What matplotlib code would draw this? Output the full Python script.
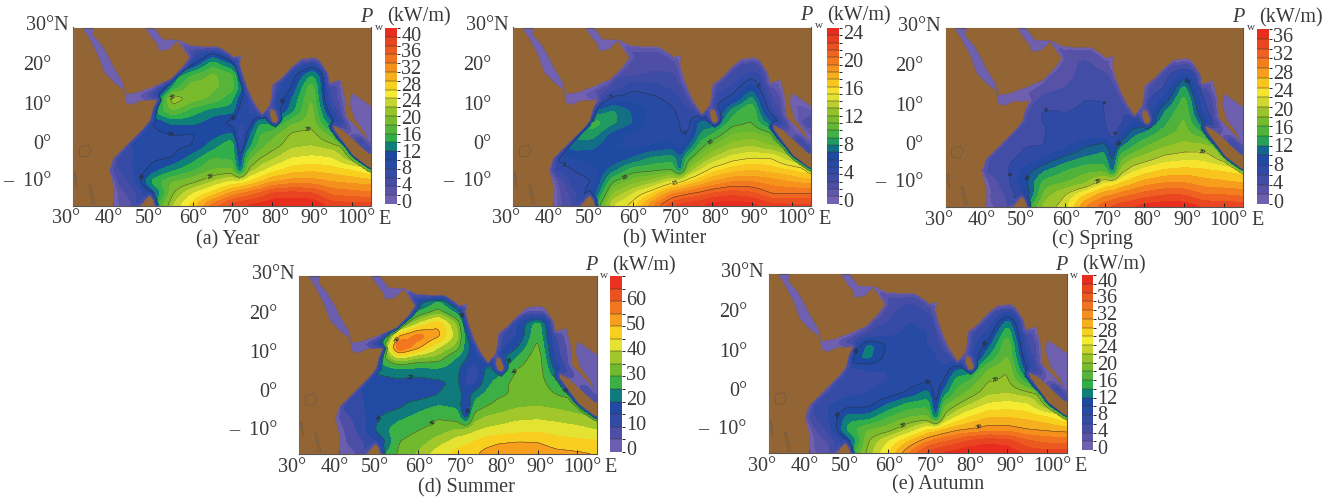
import numpy as np
import matplotlib
matplotlib.use("Agg")
import matplotlib.pyplot as plt
from matplotlib.colors import LinearSegmentedColormap, ListedColormap, BoundaryNorm
from matplotlib.patches import Polygon
from matplotlib.path import Path

plt.rcParams['font.family'] = ['Liberation Serif', 'DejaVu Serif']

lons = [40, 45, 50, 55, 60, 65, 70, 72, 74, 77, 80, 85, 90, 95, 100, 105]
lats = [24, 21, 18, 15, 12, 9, 6, 3, 0, -3, -6, -9, -12, -15]

year_power = [
 [0,0,0,2,5,9,6,0,0,0,0,0,0,0,0,0],
 [0,0,0,4,9,15,11,8,5,0,0,6,8,6,0,0],
 [0,0,0,12,16,18.5,16.5,11,9,6,8,9,14,8,0,0],
 [0,0,2,14,19.5,18.5,17,13,9,6,6,10,17.5,5,1,0],
 [0,0,8,22,19,17.5,14.5,10.5,8,6,7,12,18.5,5,1,1],
 [0,0,14,18,15,13,13,9,8,6,8,13,19,8,1,1],
 [0,10,10,12.5,12.5,11,9,8,8,14,13,17.5,19,12,1,1],
 [0,9,9.5,10,9.8,11,12.5,6,11,16,17,20.5,21,17,1,1],
 [6,8,9,9.5,10,13,16,7,13,17,19,21.5,22,21,20,1],
 [6,8,9.5,10,13,16,15.5,10,17,20,21.5,24,24.5,24,20,18],
 [5,8,11,13.5,15.5,18,18.5,10,20.5,23,25,27,27.5,27,26,24],
 [3,7,15,18,19.5,22,24.5,25,26,28,30,31,31,30,29.5,29],
 [2,5,10,20,24,27,31,32,33,34.5,36.5,37,36.5,33.5,33,32.5],
 [1,4,14,22,27,33,37,38,38.5,39,39.7,39.8,39.7,37.5,37,37],
]
winter_power = [
 [0,0,0,1,2,2,2,0,0,0,0,0,0,0,0,0],
 [0,0,0,2,2.2,2.6,2.5,2,2,0,0,3,3,3,0,0],
 [0,0,0,2.8,2.8,3.2,3.1,2.5,2,2,3,3,4.5,3,0,0],
 [0,0,1,3,4.8,4.4,3.7,3,2.5,2,3,4,6.5,2,0,0],
 [0,0,2,5.5,5.5,5.3,4.7,4,3,2.5,4,5.5,8.5,3,1,1],
 [0,0,7,8.2,6.8,5.5,5.2,4.7,4.2,3.5,4,8.5,10.2,4,1,1],
 [0,9,9.7,8.3,7,5.5,5.2,5,4.5,7.5,7,9.5,10,7,1,3],
 [0,8.5,8.5,6.5,5.7,5.5,5.3,5,5,8,9,11,11.3,10.5,1,1],
 [5,7.5,7.2,6,5.8,6,6.5,5,7,9.5,11,12.5,13,12,11,1],
 [5,6,6.5,6,7,8.2,8.5,7,9.5,11.5,13,14.5,15,15,13,12],
 [4,5,5.5,7.5,9.5,9.7,10,7,12,14,15.5,16.5,17,16.5,16,15],
 [1,4.5,5,10,11.5,12.5,14.5,15,16,17,18,19,19,18.5,18,17.5],
 [1,3.5,6,12,14,16,19,19.5,20,20.5,21.2,21.7,21.3,20,20,20],
 [1,3,8,14,15.5,19,22,22.5,22.7,23,23.5,23.8,23.5,22.5,22.3,22.3],
]
spring_power = [
 [0,0,0,2,3,3,3,0,0,0,0,0,0,0,0,0],
 [0,0,0,2,3,4.5,3,2.5,2,0,0,4,4,3,0,0],
 [0,0,0,3,3,5,4.5,3.5,3,2,4,5,9,5,0,0],
 [0,0,1,3,4,5.5,5.5,5,4,3,4,6,13,4,0,0],
 [0,0,2,5,5.5,6,6,6,5,4,5,8.5,15,6,2,2],
 [0,0,5,6.2,6,6.2,6,5.5,6,5,5,12,16,7,2,2],
 [0,6,6,6,6,6.3,6.3,4,5.5,8.5,9,13.5,16.5,10,1,1],
 [0,6,5.5,6,6.3,7,7,5,8,11.5,13,15.5,17,15,1,1],
 [5,5,6,6,7.5,10,11.5,8,12,14,16,18,19,19,18,1],
 [5,5.5,6.5,8.5,11,12.5,13,9,15.5,18,19,21,21.5,21.5,19,16],
 [4,5.5,9,12,14,15.5,15.5,10,19,21.5,23,24.5,25,24.5,24,23],
 [2,5,9.5,15,16,17.5,22,22.5,24,25.5,27,28,28,27,26.5,26],
 [2,4,8,17,20,24,27.5,28,29,30,31,32,32,30,30,29.5],
 [1,3,12,19,21,28,31.5,32.5,33.5,34,35,35.5,35.3,34,33.5,33.5],
]
summer_power = [
 [0,0,0,2,15,24,15,0,0,0,0,0,0,0,0,0],
 [0,0,0,5,25,32,22,12,5,0,0,5,5,5,0,0],
 [0,0,0,25,40,49,33,18,10,5,10,15,28,8,0,0],
 [0,0,5,50,58,52,36,22,14,8,10,15,30,8,0,0],
 [0,0,20,63,52,40,32,22,18,10,12,20,32,10,1,1],
 [0,0,25,38,33,32,23,20,16,20,18,26,34.5,12,1,1],
 [0,19,21,22,22,23,21,15,11,21,22,31,34,18,1,1],
 [0,15,18,19,18,19,21,14,13,23,27,32.5,33,26,1,1],
 [12,14,18,18,17.5,20,23,16,23,26,29,31,33,30,28,1],
 [10,14,17.5,19,23,25.5,24,12,27,30,32,34.5,35,34,32,28],
 [6,12,20,24,27,30,28,18,33,36,37,39,39.5,38.5,37,35],
 [3,11,22,28,30,32,36,37,39,41,42,43.5,44,43,42,40],
 [3,8,15,30,32,38,43,44,45.5,48,49.5,50.3,50,47,46.5,46],
 [2,5,22,31,36,43,47,48,49,52,53,54,54,52,51,50],
]
autumn_power = [
 [0,0,0,2,4,5,5,0,0,0,0,0,0,0,0,0],
 [0,0,0,3,5,7,5.5,4,3,0,0,5,7,5,0,0],
 [0,0,0,5,6,8,7.5,5,4,3,5,6,13,5,0,0],
 [0,0,2,6,7.5,8.5,8,6,4,3,5,8.5,16,5,0,0],
 [0,0,6,13,9.7,8.5,8,7,5,4,6,11,18,6,2,2],
 [0,0,12,12.5,9,8.5,9.5,8,7,6,6,14,18.5,8,1,1],
 [0,7,7,8,8,9,10,9,8.5,12,12.5,18,20,10,1,1],
 [0,6,7,7.5,8,9,9.8,9,10,15,16,20,20.5,15,1,1],
 [5,6,7.5,8,9,10.5,13,8.5,13,16.5,18.5,21.5,22,21,20,1],
 [6,8,9.5,9.5,12.5,15,15.5,9,17.5,20,22,24.5,25,24.5,20,18],
 [5,8,13,13,16,18,18.5,11,21,24,26,28,28,27.5,26.5,24],
 [2,7,15,18,19,22,26,27,28,29.5,30,31,31,30,29.5,29],
 [2,4,10,20,24,28,32,33,34,35,36.5,37.5,37,34.5,33.5,33.5],
 [1,3,14,21,26,32,37,38,38.5,39,39.7,39.8,39.7,37.5,37,37],
]

x_ticks = [30, 40, 50, 60, 70, 80, 90, 100]
x_tick_labels = ['30°', '40°', '50°', '60°', '70°', '80°', '90°', '100°']
y_ticks = [30, 20, 10, 0, -10]
y_tick_labels = ['30°N', '20°', '10°', '0°', '–  10°']

titles = ['(a) Year', '(b) Winter', '(c) Spring', '(d) Summer', '(e) Autumn']
level_steps = [2, 1, 2, 5, 2]
level_tops = [40, 24, 36, 70, 40]
bar_labels = [[0,4,8,12,16,20,24,28,32,36,40],
              [0,4,8,12,16,20,24],
              [0,4,8,12,16,20,24,28,32,36],
              [0,10,20,30,40,50,60],
              [0,4,8,12,16,20,24,28,32,36,40]]
contour_levels = [[10, 20], [5, 10, 15, 20], [6, 10, 20], [20, 30, 50], [10, 20, 30]]
contour_widths = [[.3, .3], [.3, .3, .3, .3], [.1, .3, .3], [.3, .3, .3], [.3, .3, .3]]
contour_label_points = [
 [(54.3,3),(42.7,-6),(71.7,6),(83,11.5),(64.4,-7.7),(89,4.4),(54.9,12.8)],
 [(54.5,13),(91.2,15.5),(73.3,2),(41,-7.3),(79,2),(58.2,-7.9),(70.5,-8.3)],
 [(54.8,12.6),(71.7,12.4),(73.7,3.3),(40.9,-7.1),(73.8,0.8),(90.8,17.2),(50.8,-7.6),(94.5,-1.5),(68.1,-7.9)],
 [(58.2,4.8),(48.6,-4.8),(72.6,-3.8),(97,1.2),(54.9,13.9),(70.8,20.2),(83.1,9),(83.6,6.4),(63.5,-6.9)],
 [(51.6,11),(70.1,6.7),(45.5,-3.8),(84,13),(63.5,-7.6),(86.4,5.2),(82.8,-8.6)],
]

# land outlines, lon / lat
africa = [(40.1,-16),(40.3,-10.7),(39.1,-6),(40.1,-3.1),(43,-0.2),(45.5,2.3),(47.6,4.4),(49.3,6.5),(50.1,9.5),(51.1,11.8),
          (49.7,11.6),(47.2,11.6),(44.7,10.5),(43.2,11.1),(43,13),(42.6,14.5),(40.7,15.7),(37.8,18.7),(36.1,23.3),(33.9,27.5),
          (32.5,29.6),(32.3,31),(29,31),(29,-16)]
arabia = [(35,31),(35.2,29.6),(34.8,28.2),(37,25.8),(39,22.4),(39.9,20.4),(42.4,16.2),(43.2,13.1),(46.2,13.6),(50.8,15.3),
          (54.6,17),(57.5,20),(59.2,22.4),(56.6,26.2),(56.2,26.6),(54.1,24.5),(51.6,24.1),(51.2,25.8),(50,27.1),(48.3,29.6),(48,31)]
asia = [(50,31),(50.4,29.8),(52.5,27),(56.6,26.8),(59.6,25.4),(63.8,25.1),(66,25.2),(67.3,24.7),(69.4,23.3),(70.2,22.5),
        (72.3,22.9),(71.9,20.8),(72.7,17.8),(74,14.1),(75.7,10.7),(77.5,8),(79.4,10.3),(79.8,12.4),(80.1,15.5),(82.4,17.2),
        (84.9,19.9),(87.4,22),(90.7,22.4),(92,21.6),(94.1,18.3),(94.5,15.9),(97.2,16.8),(98.3,12.4),(98.7,7.4),(100.8,5.3),
        (104.2,1.5),(103.3,3.6),(100.8,6.9),(99.6,10.7),(100,13.4),(101.7,12.4),(104.6,10.3),(106,10),(106,31)]
sumatra = [(95.4,5.3),(97.9,4),(104.2,-1.8),(106,-2.2),(106,-6),(104.2,-5.2),(100.4,-2.3),(97.9,1.1),(95.8,4)]
sri_lanka = [(79.7,9.4),(80.7,9),(81.5,6.9),(81.1,5.9),(80.1,6.1),(79.5,7.8)]
madagascar = [(46.8,-16),(47,-15),(48.5,-13.2),(49.3,-12.5),(50,-13.5),(50.5,-15),(50.5,-16)]
lakes = [[(31.7,-0.2),(33.8,0.2),(34.4,-1),(33.6,-2.7),(31.7,-2.5),(31.4,-1.2)],
         [(30.2,-7),(30.6,-6.9),(31.1,-10.2),(30.7,-10.2)],
         [(33.9,-9.8),(34.4,-9.8),(35.4,-14.4),(34.8,-14.4)]]

# pixel layout: left, right, top, bottom of map; left, right, top, bottom of bar
map_boxes = [(73.3,371,27.5,205.5),(513.3,811,27.5,205.5),(945.7,1243.3,28.3,206.7),(299.3,596.7,276,454),(769,1066.7,274,453.3)]
bar_boxes = [(385,396.7,28,204),(827.3,839,28,203.5),(1256.7,1268.6,29.3,204),(610,621.7,276,451.7),(1081.7,1093,275,450)]
title_centres = [(228,239.5),(665,238.5),(1092.7,239.5),(466.7,487.5),(938,484.5)]
header_lefts = [(360,17),(800,16),(1232,18),(585,266),(1055,265)]
label_top_fracs = [.962,.971,.962,.867,.968]
fields = [year_power, winter_power, spring_power, summer_power, autumn_power]

W, H = 1342, 499
anchors = [(0,'#7a66b3'),(.1,'#4f4ea6'),(.2,'#2c4aa6'),(.29,'#1a4a9f'),(.325,'#0f8079'),(.375,'#2fae4a'),(.45,'#6ab82f'),
           (.525,'#96c32a'),(.575,'#c5d32f'),(.625,'#f5ec34'),(.675,'#f8d01f'),(.75,'#f7a01c'),(.825,'#f2741f'),(.9,'#ea4f20'),(1,'#e8221f')]
base_cmap = LinearSegmentedColormap.from_list('pw', anchors)
LAND = '#936535'
DARK = '#3a3a3a'
land_polys = [africa, arabia, asia, sumatra, sri_lanka, madagascar]

fine_lo = np.arange(30, 105.01, .25)
fine_la = np.arange(-15, 30.01, .25)
mx, my = np.meshgrid(fine_lo, fine_la)
pts = np.column_stack([mx.ravel(), my.ravel()])
land_mask = np.zeros(mx.shape, bool)
for poly in land_polys:
    land_mask |= Path(poly).contains_points(pts).reshape(mx.shape)
# distance from the coast in degrees, out to 1.75
coast_dist = np.full(mx.shape, 7.0)
grown = land_mask.copy()
for step in range(7):
    coast_dist[grown & (coast_dist == 7.0)] = step
    g = grown.copy()
    g[1:, :] |= grown[:-1, :]
    g[:-1, :] |= grown[1:, :]
    g[:, 1:] |= grown[:, :-1]
    g[:, :-1] |= grown[:, 1:]
    grown = g
coast_factor = np.interp(coast_dist * .25, [0, 1.75], [.25, 1])


def smooth_field(rows):
    z = np.array(rows, float)[::-1]
    la = np.array(lats[::-1], float)
    lo = np.array(lons, float)
    a = np.array([np.interp(fine_lo, lo, r) for r in z])
    b = np.array([np.interp(fine_la, la, c) for c in a.T]).T
    k = np.ones(5) / 5
    for _ in range(2):
        b = np.pad(b, 2, mode='edge')
        b = np.apply_along_axis(lambda m: np.convolve(m, k, mode='same'), 0, b)
        b = np.apply_along_axis(lambda m: np.convolve(m, k, mode='same'), 1, b)
        b = b[2:-2, 2:-2]
    return b * coast_factor


def box_axes(fig, box):
    l, r, t, b = box
    return fig.add_axes([l / W, 1 - b / H, (r - l) / W, (b - t) / H])


fig = plt.figure(figsize=(W / 100, H / 100), dpi=100)
px_pt = 0.72
x_shift = [-7, -4, -4, 1, 3, 3, 3, 5]
y_shift = [(-5, 1.5), (-22, 1.3), (-22, 1.3), (-22, 2), (-22, 4)]

for i in range(5):
    ax = box_axes(fig, map_boxes[i])
    fz = smooth_field(fields[i])
    levels = np.arange(0, level_tops[i] + .01, level_steps[i])
    n = len(levels) - 1
    cmap = ListedColormap(base_cmap((np.arange(n) + .5) / n))
    norm = BoundaryNorm(levels, n)
    cf = ax.contourf(fine_lo, fine_la, fz, levels=levels, cmap=cmap, norm=norm, zorder=1)
    cs = ax.contour(fine_lo, fine_la, fz, levels=contour_levels[i], colors='#2a2a2a', linewidths=contour_widths[i], zorder=2)
    labs = ax.clabel(cs, fmt='%d', fontsize=5, manual=contour_label_points[i], inline=True, inline_spacing=0)
    for t in labs:
        t.set_zorder(6)
        t.set_fontweight('bold')
    for poly in land_polys:
        ax.add_patch(Polygon(poly, closed=True, fc=LAND, ec='#6a5a78', lw=.3, zorder=4))
    for lake in lakes:
        ax.add_patch(Polygon(lake, closed=True, fc='none', ec='#6d5a45', lw=.5, zorder=5))
    ax.set_xlim(30, 104.9)
    ax.set_ylim(-15, 30)
    ax.set_xticks(x_ticks[1:])
    ax.set_yticks(y_ticks[1:])
    ax.tick_params(direction='in', length=3, width=.7, color='#222222', labelleft=False, labelbottom=False, top=False, right=False)
    for s in ax.spines.values():
        s.set_linewidth(.8)
        s.set_color('#555555')
    for v, lab, dx in zip(x_ticks, x_tick_labels, x_shift):
        ax.annotate(lab, xy=(v, -15), xycoords='data', xytext=(dx * px_pt, -13.5 * px_pt), textcoords='offset points',
                    ha='center', va='center', fontsize=14.5, color=DARK, annotation_clip=False)
    for v, lab, (dx, dy) in zip(y_ticks, y_tick_labels, y_shift):
        ax.annotate(lab, xy=(30, v), xycoords='data', xytext=(dx * px_pt, dy * px_pt), textcoords='offset points',
                    ha='right', va='center', fontsize=14.5, color=DARK, annotation_clip=False)
    l, r, t, b = map_boxes[i]
    fig.text((r + 14) / W, 1 - (b + 13.5) / H, 'E', ha='center', va='center', fontsize=14.5, color=DARK)
    tx, ty = title_centres[i]
    fig.text(tx / W, 1 - ty / H, titles[i], ha='center', va='center', fontsize=14.5, color=DARK)
    hx, hy = header_lefts[i]
    fig.text(hx / W, 1 - hy / H, 'P', style='italic', ha='left', va='center', fontsize=14.5, color=DARK)
    fig.text((hx + 15) / W, 1 - (hy + 10) / H, 'w', ha='left', va='center', fontsize=8, color=DARK)
    fig.text((hx + 27) / W, 1 - hy / H, '(kW/m)', ha='left', va='center', fontsize=14.5, color=DARK)

    cax = box_axes(fig, bar_boxes[i])
    cb = fig.colorbar(cf, cax=cax, drawedges=True, spacing='proportional')
    cb.set_ticks([])
    cb.outline.set_visible(False)
    cb.dividers.set_color('#333333')
    cb.dividers.set_linewidth(.35)
    bl, br, bt, bb = bar_boxes[i]
    labs_b = bar_labels[i]
    for v in labs_b:
        frac = .013 + (v / labs_b[-1]) * (label_top_fracs[i] - .013)
        fig.text((br + 4.5) / W, 1 - (bb + 1.5 - frac * (bb - bt)) / H, str(v), ha='left', va='center', fontsize=14.5, color=DARK)

fig.savefig('out.png', dpi=100)
